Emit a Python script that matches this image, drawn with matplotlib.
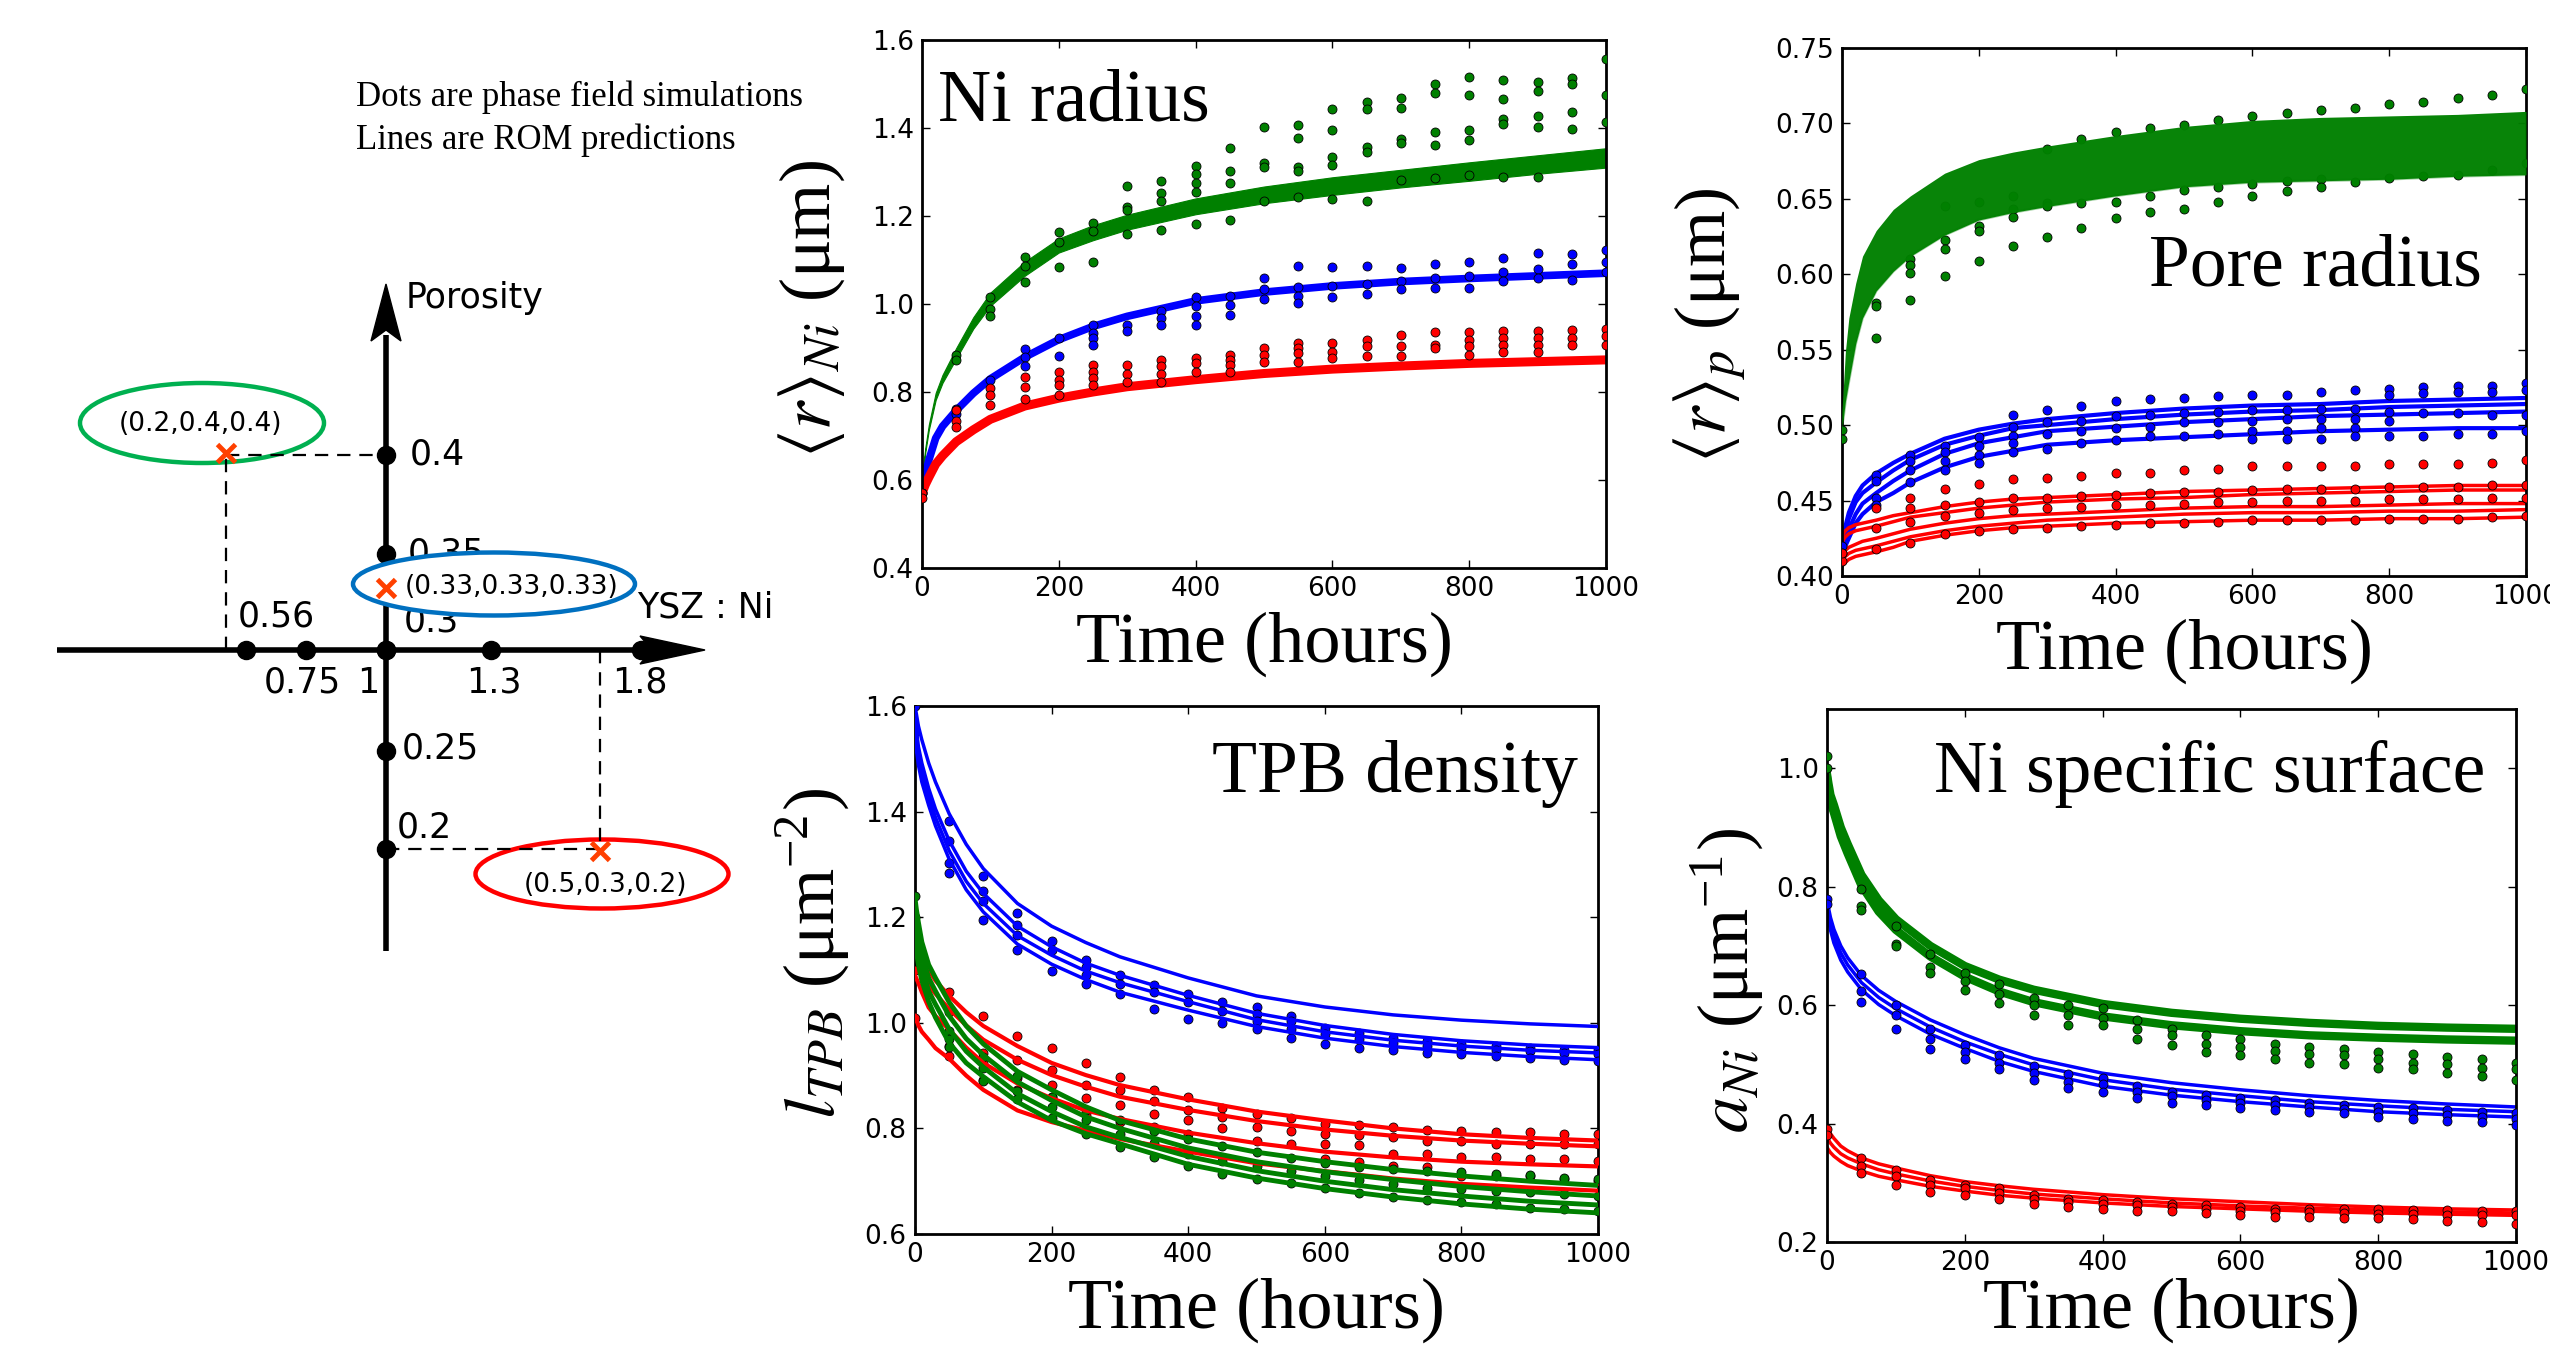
import matplotlib
matplotlib.use('Agg')
import matplotlib.pyplot as plt
from matplotlib.patches import Ellipse, Polygon
from matplotlib.ticker import FormatStrFormatter

plt.rcParams['font.family'] = 'serif'
plt.rcParams['font.serif'] = ['Liberation Serif', 'DejaVu Serif']
plt.rcParams['mathtext.fontset'] = 'stix'

# ---------------------------------------------------------------- data
t_dots = list(range(0, 1001, 50))
t_line = [0, 2, 5, 10, 20, 30, 50, 75, 100, 150, 200, 250, 300, 400, 500, 600, 700, 800, 900, 1000]

# ---- Ni radius (panel A)
niA_green_lo = [0.57, 0.625, 0.665, 0.714, 0.782, 0.821, 0.876, 0.944, 0.996, 1.064, 1.117, 1.145, 1.169, 1.204, 1.229, 1.248, 1.265, 1.28, 1.296, 1.31]
niA_green_hi = [0.58, 0.635, 0.675, 0.726, 0.798, 0.839, 0.9, 0.97, 1.026, 1.096, 1.149, 1.179, 1.203, 1.24, 1.267, 1.288, 1.305, 1.322, 1.338, 1.354]
niA_blue = [0.572, 0.59, 0.615, 0.645, 0.695, 0.722, 0.758, 0.797, 0.83, 0.879, 0.919, 0.949, 0.972, 1.007, 1.027, 1.041, 1.051, 1.058, 1.064, 1.07]
niA_red = [0.565, 0.578, 0.59, 0.606, 0.636, 0.655, 0.687, 0.714, 0.738, 0.768, 0.786, 0.8, 0.812, 0.828, 0.842, 0.852, 0.859, 0.865, 0.869, 0.873]

niA_green_dots = [[0.57], [0.884, 0.873], [1.017, 0.988, 0.972], [1.106, 1.086, 1.049],
                  [1.164, 1.142, 1.083], [1.183, 1.165, 1.095], [1.269, 1.221, 1.214, 1.158],
                  [1.279, 1.252, 1.234, 1.168], [1.313, 1.295, 1.275, 1.254, 1.181],
                  [1.354, 1.302, 1.276, 1.191], [1.403, 1.321, 1.311, 1.234],
                  [1.407, 1.378, 1.311, 1.302, 1.244], [1.443, 1.395, 1.334, 1.315, 1.239],
                  [1.458, 1.443, 1.357, 1.346, 1.234], [1.468, 1.445, 1.374, 1.367, 1.282],
                  [1.499, 1.479, 1.39, 1.361, 1.286], [1.516, 1.474, 1.395, 1.372, 1.294],
                  [1.51, 1.466, 1.42, 1.409, 1.288], [1.504, 1.484, 1.428, 1.403, 1.288],
                  [1.514, 1.501, 1.437, 1.397], [1.556, 1.476, 1.413]]
niA_blue_dots = [[0.57], [0.762, 0.75], [0.827], [0.897, 0.88, 0.858], [0.923, 0.881],
                 [0.953, 0.934, 0.923, 0.907], [0.953, 0.938], [0.984, 0.969, 0.953],
                 [1.015, 0.995, 0.972, 0.953], [1.018, 0.997, 0.976], [1.06, 1.034, 1.011],
                 [1.086, 1.038, 1.018, 1.003], [1.083, 1.041, 1.015], [1.086, 1.045, 1.022],
                 [1.082, 1.053, 1.034], [1.091, 1.058, 1.037], [1.095, 1.064, 1.037],
                 [1.104, 1.072, 1.053], [1.116, 1.08, 1.06], [1.114, 1.091, 1.055],
                 [1.122, 1.095, 1.072]]
niA_red_dots = [[0.57, 0.56], [0.758, 0.735, 0.72], [0.808, 0.793, 0.77], [0.835, 0.812, 0.785],
                [0.846, 0.827, 0.816, 0.793], [0.861, 0.846, 0.831, 0.816], [0.861, 0.842, 0.823],
                [0.873, 0.858, 0.842, 0.823], [0.877, 0.865, 0.846], [0.884, 0.873, 0.861, 0.846],
                [0.9, 0.884, 0.869], [0.911, 0.9, 0.888, 0.869], [0.911, 0.892, 0.877],
                [0.919, 0.904, 0.881], [0.93, 0.904, 0.882], [0.936, 0.907, 0.9],
                [0.936, 0.919, 0.904, 0.884], [0.938, 0.923, 0.907, 0.892],
                [0.938, 0.923, 0.907, 0.892], [0.94, 0.923, 0.907], [0.943, 0.927, 0.907]]

# ---- Pore radius (panel B)
poB_green_lo = [0.5, 0.505, 0.516, 0.529, 0.554, 0.571, 0.589, 0.602, 0.612, 0.626, 0.636, 0.641, 0.645, 0.652, 0.658, 0.661, 0.662, 0.663, 0.665, 0.666]
poB_green_hi = [0.51, 0.525, 0.549, 0.571, 0.594, 0.612, 0.629, 0.643, 0.652, 0.667, 0.676, 0.681, 0.685, 0.692, 0.698, 0.702, 0.704, 0.705, 0.706, 0.708]
poB_blue_lines = [
    [0.42, 0.426, 0.433, 0.442, 0.453, 0.46, 0.468, 0.475, 0.481, 0.491, 0.497, 0.501, 0.504, 0.508, 0.511, 0.513, 0.514, 0.516, 0.517, 0.518],
    [0.417, 0.422, 0.429, 0.438, 0.449, 0.455, 0.462, 0.47, 0.477, 0.487, 0.493, 0.498, 0.5, 0.504, 0.507, 0.509, 0.51, 0.512, 0.513, 0.514],
    [0.413, 0.418, 0.424, 0.431, 0.441, 0.448, 0.455, 0.463, 0.47, 0.481, 0.488, 0.492, 0.496, 0.499, 0.502, 0.504, 0.506, 0.507, 0.508, 0.509],
    [0.41, 0.414, 0.42, 0.425, 0.435, 0.441, 0.449, 0.455, 0.462, 0.472, 0.479, 0.483, 0.487, 0.49, 0.492, 0.494, 0.496, 0.497, 0.498, 0.498]]
poB_red_lines = [
    [0.426, 0.428, 0.43, 0.432, 0.434, 0.435, 0.437, 0.44, 0.442, 0.446, 0.449, 0.451, 0.452, 0.454, 0.456, 0.457, 0.458, 0.459, 0.46, 0.46],
    [0.422, 0.424, 0.426, 0.428, 0.43, 0.431, 0.433, 0.436, 0.439, 0.442, 0.445, 0.447, 0.449, 0.451, 0.452, 0.454, 0.455, 0.456, 0.457, 0.457],
    [0.413, 0.415, 0.417, 0.419, 0.421, 0.423, 0.425, 0.428, 0.431, 0.435, 0.438, 0.44, 0.441, 0.443, 0.445, 0.446, 0.446, 0.447, 0.448, 0.448],
    [0.41, 0.412, 0.413, 0.415, 0.417, 0.418, 0.42, 0.423, 0.426, 0.43, 0.433, 0.435, 0.437, 0.439, 0.441, 0.442, 0.442, 0.443, 0.443, 0.444],
    [0.406, 0.408, 0.409, 0.411, 0.413, 0.414, 0.416, 0.419, 0.423, 0.427, 0.43, 0.432, 0.433, 0.435, 0.436, 0.437, 0.437, 0.438, 0.438, 0.439]]
poB_green_dots = [[0.497, 0.491], [0.581, 0.579, 0.558], [0.61, 0.606, 0.601, 0.583],
                  [0.645, 0.623, 0.617, 0.599], [0.648, 0.632, 0.629, 0.609],
                  [0.652, 0.643, 0.638, 0.619], [0.683, 0.647, 0.645, 0.625],
                  [0.69, 0.647, 0.631], [0.694, 0.648, 0.637], [0.697, 0.652, 0.641],
                  [0.699, 0.656, 0.643], [0.702, 0.658, 0.648], [0.705, 0.66, 0.652],
                  [0.707, 0.662, 0.655], [0.709, 0.663, 0.658], [0.71, 0.661],
                  [0.713, 0.664], [0.714, 0.665], [0.717, 0.666], [0.719, 0.669], [0.723, 0.674]]
poB_blue_dots = [[0.42, 0.415], [0.467, 0.463, 0.452, 0.447], [0.48, 0.476, 0.47, 0.462],
                 [0.486, 0.482, 0.476, 0.47], [0.492, 0.486, 0.48, 0.475],
                 [0.507, 0.499, 0.493, 0.488, 0.482], [0.51, 0.502, 0.494, 0.484],
                 [0.513, 0.503, 0.496, 0.488], [0.516, 0.506, 0.498, 0.49],
                 [0.517, 0.507, 0.499, 0.493], [0.518, 0.508, 0.502, 0.493],
                 [0.519, 0.509, 0.502, 0.494], [0.52, 0.51, 0.503, 0.496, 0.491],
                 [0.52, 0.51, 0.504, 0.496, 0.491], [0.522, 0.511, 0.504, 0.498, 0.491],
                 [0.523, 0.511, 0.504, 0.498, 0.493], [0.524, 0.52, 0.509, 0.503, 0.493],
                 [0.525, 0.521, 0.508, 0.493], [0.526, 0.522, 0.508, 0.494],
                 [0.526, 0.522, 0.507, 0.494], [0.528, 0.523, 0.507, 0.496]]
poB_red_dots = [[0.41, 0.415], [0.445, 0.432, 0.418], [0.452, 0.445, 0.436, 0.422],
                [0.458, 0.447, 0.44, 0.428], [0.461, 0.449, 0.442, 0.43],
                [0.464, 0.452, 0.444, 0.431], [0.465, 0.452, 0.445, 0.432],
                [0.466, 0.453, 0.446, 0.433], [0.468, 0.454, 0.447, 0.434],
                [0.468, 0.455, 0.447, 0.435], [0.47, 0.456, 0.448, 0.435],
                [0.471, 0.456, 0.449, 0.436], [0.473, 0.457, 0.449, 0.437],
                [0.473, 0.458, 0.45, 0.437], [0.473, 0.458, 0.45, 0.437],
                [0.473, 0.458, 0.45, 0.437], [0.474, 0.459, 0.451, 0.438],
                [0.474, 0.459, 0.451, 0.438], [0.474, 0.459, 0.451, 0.438],
                [0.475, 0.46, 0.452, 0.439], [0.477, 0.46, 0.452, 0.44]]

# ---- TPB density (panel C)
tpC_blue_lines = [
    [1.6, 1.585, 1.562, 1.536, 1.492, 1.456, 1.396, 1.338, 1.292, 1.226, 1.183, 1.152, 1.125, 1.085, 1.051, 1.03, 1.015, 1.005, 0.998, 0.993],
    [1.575, 1.555, 1.523, 1.492, 1.444, 1.405, 1.345, 1.287, 1.245, 1.183, 1.144, 1.113, 1.09, 1.052, 1.018, 0.995, 0.978, 0.966, 0.958, 0.953],
    [1.56, 1.535, 1.504, 1.472, 1.428, 1.389, 1.326, 1.268, 1.226, 1.165, 1.128, 1.098, 1.076, 1.04, 1.006, 0.983, 0.967, 0.956, 0.948, 0.943],
    [1.54, 1.517, 1.488, 1.456, 1.412, 1.373, 1.31, 1.252, 1.21, 1.149, 1.111, 1.082, 1.058, 1.024, 0.993, 0.971, 0.955, 0.944, 0.936, 0.93]]
tpC_red_lines = [
    [1.166, 1.16, 1.148, 1.128, 1.1, 1.08, 1.051, 1.02, 0.994, 0.956, 0.924, 0.901, 0.882, 0.855, 0.832, 0.815, 0.8, 0.789, 0.782, 0.777],
    [1.141, 1.135, 1.124, 1.102, 1.07, 1.055, 1.026, 0.995, 0.968, 0.93, 0.901, 0.879, 0.86, 0.835, 0.814, 0.798, 0.786, 0.777, 0.771, 0.766],
    [1.09, 1.084, 1.075, 1.058, 1.029, 1.013, 0.987, 0.953, 0.924, 0.885, 0.857, 0.834, 0.818, 0.792, 0.772, 0.756, 0.745, 0.737, 0.732, 0.728],
    [1.013, 1.005, 0.995, 0.983, 0.968, 0.952, 0.932, 0.9, 0.873, 0.834, 0.812, 0.796, 0.78, 0.756, 0.734, 0.719, 0.705, 0.695, 0.688, 0.682]]
tpC_green_lines = [
    [1.236, 1.215, 1.19, 1.153, 1.11, 1.085, 1.039, 0.994, 0.96, 0.908, 0.873, 0.841, 0.815, 0.78, 0.755, 0.737, 0.722, 0.71, 0.7, 0.692],
    [1.21, 1.19, 1.165, 1.13, 1.085, 1.06, 1.013, 0.97, 0.939, 0.888, 0.853, 0.822, 0.8, 0.763, 0.737, 0.718, 0.703, 0.69, 0.68, 0.672],
    [1.18, 1.16, 1.135, 1.105, 1.06, 1.035, 0.988, 0.946, 0.916, 0.866, 0.832, 0.803, 0.783, 0.747, 0.72, 0.7, 0.684, 0.672, 0.662, 0.655],
    [1.153, 1.135, 1.11, 1.08, 1.04, 1.01, 0.962, 0.924, 0.898, 0.85, 0.815, 0.79, 0.771, 0.732, 0.706, 0.686, 0.67, 0.657, 0.647, 0.64]]
tpC_blue_dots = [[1.6, 1.55], [1.383, 1.345, 1.303, 1.284], [1.278, 1.249, 1.23, 1.195],
                 [1.208, 1.185, 1.166, 1.138], [1.154, 1.138, 1.099], [1.119, 1.106, 1.09, 1.074],
                 [1.09, 1.074, 1.055], [1.071, 1.058, 1.026], [1.055, 1.039, 1.007],
                 [1.039, 1.023, 1.0], [1.029, 1.016, 1.004, 0.988], [1.013, 1.004, 0.988, 0.972],
                 [0.991, 0.978, 0.959], [0.981, 0.969, 0.953], [0.972, 0.962, 0.949],
                 [0.965, 0.956, 0.943], [0.959, 0.953, 0.94], [0.956, 0.949, 0.937],
                 [0.953, 0.946, 0.933], [0.949, 0.943, 0.93], [0.949, 0.94, 0.927]]
tpC_red_dots = [[1.16, 1.1, 1.01], [1.058, 1.02, 0.956, 0.937], [1.013, 0.943, 0.924, 0.892],
                [0.975, 0.93, 0.895, 0.873], [0.953, 0.911, 0.883, 0.86], [0.924, 0.883, 0.857, 0.825],
                [0.898, 0.873, 0.844, 0.812], [0.873, 0.851, 0.828, 0.803], [0.86, 0.835, 0.816, 0.79],
                [0.838, 0.822, 0.8], [0.828, 0.803, 0.777], [0.819, 0.796, 0.771],
                [0.809, 0.79, 0.771, 0.742], [0.806, 0.787, 0.768, 0.736], [0.803, 0.784, 0.752, 0.729],
                [0.797, 0.777, 0.752, 0.726], [0.796, 0.777, 0.745, 0.71], [0.793, 0.771, 0.745, 0.71],
                [0.793, 0.771, 0.742, 0.71], [0.79, 0.771, 0.742, 0.704], [0.79, 0.771, 0.739, 0.701]]
tpC_green_dots = [[1.24, 1.2], [0.985, 0.97, 0.955], [0.935, 0.915, 0.89], [0.9, 0.87, 0.855],
                  [0.86, 0.84, 0.82], [0.835, 0.815, 0.79], [0.815, 0.79, 0.765],
                  [0.795, 0.772, 0.745], [0.78, 0.752, 0.728], [0.767, 0.738, 0.713],
                  [0.755, 0.728, 0.705], [0.744, 0.719, 0.697], [0.735, 0.709, 0.688],
                  [0.727, 0.702, 0.678], [0.723, 0.695, 0.671], [0.72, 0.688, 0.665],
                  [0.717, 0.685, 0.66], [0.714, 0.682, 0.656], [0.711, 0.679, 0.65],
                  [0.707, 0.675, 0.647], [0.704, 0.672, 0.643]]

# ---- Ni specific surface (panel D)
ssD_green_lines = [
    [0.99, 0.975, 0.955, 0.938, 0.9, 0.872, 0.82, 0.777, 0.745, 0.7, 0.666, 0.643, 0.626, 0.602, 0.587, 0.577, 0.57, 0.565, 0.562, 0.56],
    [0.985, 0.965, 0.943, 0.925, 0.885, 0.856, 0.802, 0.758, 0.727, 0.682, 0.648, 0.623, 0.605, 0.581, 0.566, 0.556, 0.549, 0.545, 0.542, 0.54]]
ssD_blue_lines = [
    [0.78, 0.765, 0.748, 0.728, 0.7, 0.68, 0.65, 0.625, 0.606, 0.575, 0.55, 0.528, 0.51, 0.485, 0.469, 0.457, 0.447, 0.439, 0.433, 0.428],
    [0.77, 0.755, 0.737, 0.716, 0.688, 0.668, 0.638, 0.613, 0.594, 0.563, 0.538, 0.517, 0.499, 0.474, 0.458, 0.447, 0.437, 0.43, 0.424, 0.42],
    [0.76, 0.745, 0.727, 0.705, 0.676, 0.656, 0.626, 0.601, 0.582, 0.551, 0.527, 0.505, 0.488, 0.463, 0.448, 0.437, 0.428, 0.42, 0.415, 0.411]]
ssD_red_lines = [
    [0.394, 0.389, 0.383, 0.375, 0.362, 0.354, 0.342, 0.332, 0.325, 0.312, 0.302, 0.295, 0.289, 0.28, 0.273, 0.268, 0.263, 0.259, 0.256, 0.254],
    [0.377, 0.373, 0.367, 0.36, 0.349, 0.342, 0.332, 0.322, 0.315, 0.303, 0.294, 0.287, 0.281, 0.273, 0.266, 0.261, 0.257, 0.254, 0.251, 0.249],
    [0.36, 0.356, 0.351, 0.345, 0.336, 0.329, 0.32, 0.311, 0.305, 0.294, 0.286, 0.279, 0.274, 0.266, 0.26, 0.256, 0.252, 0.249, 0.247, 0.245]]
ssD_green_dots = [[1.02, 1.0], [0.796, 0.767, 0.761], [0.733, 0.704, 0.7], [0.687, 0.664, 0.655],
                  [0.655, 0.641, 0.626], [0.635, 0.618, 0.603], [0.612, 0.6, 0.583],
                  [0.6, 0.583, 0.566], [0.595, 0.578, 0.566], [0.575, 0.56, 0.543],
                  [0.56, 0.549, 0.532], [0.549, 0.535, 0.52], [0.543, 0.529, 0.515],
                  [0.535, 0.523, 0.509], [0.529, 0.517, 0.503], [0.526, 0.515, 0.5],
                  [0.52, 0.509, 0.494], [0.517, 0.503, 0.492], [0.512, 0.5, 0.486],
                  [0.509, 0.494, 0.48], [0.503, 0.492, 0.474]]
ssD_blue_dots = [[0.78, 0.77], [0.652, 0.624, 0.606], [0.6, 0.583, 0.56], [0.56, 0.543, 0.526],
                 [0.532, 0.52, 0.509], [0.515, 0.503, 0.492], [0.497, 0.486, 0.474],
                 [0.483, 0.471, 0.46], [0.477, 0.466, 0.454], [0.463, 0.454, 0.443],
                 [0.454, 0.446, 0.434], [0.449, 0.44, 0.431], [0.443, 0.434, 0.426],
                 [0.44, 0.431, 0.423], [0.434, 0.428, 0.42], [0.431, 0.424, 0.417],
                 [0.428, 0.42, 0.411], [0.426, 0.417, 0.408], [0.423, 0.414, 0.405],
                 [0.42, 0.411, 0.402], [0.417, 0.408, 0.397]]
ssD_red_dots = [[0.39, 0.38], [0.342, 0.328, 0.316], [0.322, 0.311, 0.296], [0.305, 0.296, 0.285],
                [0.296, 0.291, 0.279], [0.291, 0.282, 0.273], [0.279, 0.273, 0.265],
                [0.273, 0.268, 0.259], [0.271, 0.265, 0.256], [0.268, 0.262, 0.253],
                [0.265, 0.259, 0.252], [0.262, 0.256, 0.249], [0.259, 0.253, 0.246],
                [0.256, 0.25, 0.243], [0.256, 0.25, 0.242], [0.255, 0.249, 0.241],
                [0.255, 0.248, 0.24], [0.254, 0.247, 0.238], [0.254, 0.246, 0.236],
                [0.253, 0.245, 0.233], [0.253, 0.245, 0.23]]

# ---- schematic (left)
ysz_ni_labels = ['0.56', '0.75', '1', '1.3', '1.8']
ysz_ni_pos = [-140, -80, 0, 105, 255]
poro_labels = ['0.4', '0.35', '0.3', '0.25', '0.2']
poro_pos = [195, 96, 0, -101, -199]
comp_labels = ['(0.2,0.4,0.4)', '(0.33,0.33,0.33)', '(0.5,0.3,0.2)']
comp_colors = ['#00B050', '#0070C0', '#FF0000']

G, B, R = 'green', 'blue', 'red'

# ---------------------------------------------------------------- figure
fig = plt.figure(figsize=(25.5, 13.48), dpi=100)
W, H = 2550.0, 1348.0


def add_ax(left, top, w, h):
    return fig.add_axes([left / W, (H - top - h) / H, w / W, h / H])


def dots(ax, vals, color):
    for t, vs in zip(t_dots, vals):
        ax.scatter([t] * len(vs), vs, s=42, c=color, edgecolors='k',
                   linewidths=0.6, zorder=3)


def style(ax, ylim, yticks, fmt, ylabel, ldx, ly, xdy):
    ax.set_xlim(0, 1000)
    ax.set_ylim(*ylim)
    ax.set_xticks(range(0, 1001, 200))
    ax.set_yticks(yticks)
    ax.yaxis.set_major_formatter(FormatStrFormatter(fmt))
    ax.tick_params(direction='in', top=True, right=True, length=6, width=1,
                   labelsize=19, labelfontfamily='DejaVu Sans', pad=6)
    for s in ax.spines.values():
        s.set_linewidth(2)
    ax.set_xlabel('Time (hours)', fontsize=52, va='center')
    ax.xaxis.set_label_coords(0.5, -xdy)
    ax.set_ylabel(ylabel, fontsize=52, va='center', ha='center')
    ax.yaxis.set_label_coords(-ldx, ly)


# Panel A: Ni radius
axA = add_ax(922, 40, 684, 528)
axA.fill_between(t_line, niA_green_lo, niA_green_hi, color=G, lw=0.8, zorder=2)
axA.plot(t_line, niA_blue, color=B, lw=5.5, zorder=2, solid_capstyle='butt')
axA.plot(t_line, niA_red, color=R, lw=6.5, zorder=2, solid_capstyle='butt')
dots(axA, niA_green_dots, G)
dots(axA, niA_blue_dots, B)
dots(axA, niA_red_dots, R)
style(axA, (0.4, 1.6), [0.4, 0.6, 0.8, 1.0, 1.2, 1.4, 1.6], '%.1f',
      r'$\langle r\rangle_{Ni}$ (μm)', 110 / 684, 0.49, 76 / 528)
axA.text(0.023, 0.848, 'Ni radius', transform=axA.transAxes, fontsize=53,
         ha='left', va='baseline')

# Panel B: Pore radius
axB = add_ax(1842, 48, 684, 528)
dots(axB, poB_green_dots, G)
axB.fill_between(t_line, poB_green_lo, poB_green_hi, color=G, lw=0, alpha=0.97, zorder=3.5)
axB.plot(t_line, poB_green_lo, color=G, lw=2, alpha=0.35, zorder=3.5)
for ln in poB_blue_lines:
    axB.plot(t_line, ln, color=B, lw=3, zorder=2)
for ln in poB_red_lines:
    axB.plot(t_line, ln, color=R, lw=2.5, zorder=2)
dots(axB, poB_blue_dots, B)
dots(axB, poB_red_dots, R)
style(axB, (0.40, 0.75), [0.40, 0.45, 0.50, 0.55, 0.60, 0.65, 0.70, 0.75], '%.2f',
      r'$\langle r\rangle_{p}$ (μm)', 132 / 684, 0.475, 75 / 528)
axB.text(0.936, 0.551, 'Pore radius', transform=axB.transAxes, fontsize=53,
         ha='right', va='baseline', zorder=5)

# Panel C: TPB density
axC = add_ax(915, 706, 683, 528)
dots(axC, tpC_blue_dots, B)
dots(axC, tpC_red_dots, R)
dots(axC, tpC_green_dots, G)
for ln in tpC_blue_lines:
    axC.plot(t_line, ln, color=B, lw=2.5, zorder=4)
for ln in tpC_red_lines:
    axC.plot(t_line, ln, color=R, lw=3, zorder=4)
for ln in tpC_green_lines:
    axC.plot(t_line, ln, color=G, lw=3.5, zorder=4)
style(axC, (0.6, 1.6), [0.6, 0.8, 1.0, 1.2, 1.4, 1.6], '%.1f',
      r'$l_{TPB}$ (μm$^{\mathregular{-2}}$)', 103 / 683, 0.532, 76 / 528)
axC.text(0.971, 0.837, 'TPB density', transform=axC.transAxes, fontsize=53,
         ha='right', va='baseline')

# Panel D: Ni specific surface
axD = add_ax(1827, 709, 689, 533)
for ln in ssD_green_lines:
    axD.plot(t_line, ln, color=G, lw=6, zorder=2)
for ln in ssD_blue_lines:
    axD.plot(t_line, ln, color=B, lw=2.5, zorder=2)
for ln in ssD_red_lines:
    axD.plot(t_line, ln, color=R, lw=2.5, zorder=2)
dots(axD, ssD_green_dots, G)
dots(axD, ssD_blue_dots, B)
dots(axD, ssD_red_dots, R)
style(axD, (0.2, 1.1), [0.2, 0.4, 0.6, 0.8, 1.0], '%.1f',
      r'$a_{Ni}$ (μm$^{\mathregular{-1}}$)', 100 / 689, 0.49, 68 / 533)
axD.text(0.955, 0.844, 'Ni specific surface', transform=axD.transAxes, fontsize=53,
         ha='right', va='baseline')

# ---------------------------------------------------------------- schematic
ax0 = fig.add_axes([0, 0, 850 / W, 1])
ax0.set_xlim(-386, 464)
ax0.set_ylim(-698, 650)
ax0.axis('off')
ax0.patch.set_alpha(0)
ax0.set_zorder(-1)
sans = 'DejaVu Sans'

# axes lines with arrowheads
ax0.plot([-329, 265], [0, 0], color='k', lw=4, solid_capstyle='butt', zorder=1)
ax0.add_patch(Polygon([(319, 0), (254, 14), (266, 0), (254, -14)], closed=True,
                      fc='k', ec='k', lw=1, zorder=1))
ax0.plot([0, 0], [-301, 315], color='k', lw=4, solid_capstyle='butt', zorder=1)
ax0.add_patch(Polygon([(0, 366), (-15, 309), (0, 320), (15, 309)], closed=True,
                      fc='k', ec='k', lw=1, zorder=1))
ax0.plot(ysz_ni_pos, [0] * len(ysz_ni_pos), 'o', color='k', ms=13, zorder=1)
ax0.plot([0] * len(poro_pos), poro_pos, 'o', color='k', ms=13, zorder=1)

# tick labels of the schematic
hx = [(-110, 33), (-84, -33), (-18, -33), (108, -33), (254, -33)]
for lab, (x, y) in zip(ysz_ni_labels, hx):
    ax0.text(x, y, lab, fontsize=25, family=sans, ha='center', va='center', zorder=2)
vx = [(24, 195), (22, 96), (18, 28), (16, -99), (11, -178)]
for lab, (x, y) in zip(poro_labels, vx):
    ax0.text(x, y, lab, fontsize=25, family=sans, ha='left', va='center', zorder=2)
ax0.text(251, 42, 'YSZ : Ni', fontsize=25, family=sans, ha='left', va='center')
ax0.text(20, 352, 'Porosity', fontsize=25, family=sans, ha='left', va='center')

# ellipses
ell = [((-184, 227), 244, 80), ((108, 66), 282, 63), ((216, -224), 253, 69)]
txt = [(-186, 226), (126, 63), (220, -235)]
for (c, w, h), col, lab, (tx, ty) in zip(ell, comp_colors, comp_labels, txt):
    ax0.add_patch(Ellipse(c, w, h, fc='white', ec=col, lw=3.2, zorder=3))
    ax0.text(tx, ty, lab, fontsize=19, family=sans, ha='center', va='center', zorder=6)

# dashed guide lines
dash = dict(color='k', lw=1.6, ls=(0, (6, 4)), zorder=4)
ax0.plot([-160, -160], [0, 197], **dash)
ax0.plot([-160, 0], [195, 195], **dash)
ax0.plot([214, 214], [0, -201], **dash)
ax0.plot([0, 214], [-199, -199], **dash)

# composition markers
ax0.plot([-160, 0, 214], [197, 62, -201], 'x', color='#FF4000', ms=13, mew=3.5, zorder=5)

ax0.text(-30, 553, 'Dots are phase field simulations', fontsize=25, ha='left', va='center')
ax0.text(-30, 510, 'Lines are ROM predictions', fontsize=25, ha='left', va='center')

fig.savefig('out.png', dpi=100)
